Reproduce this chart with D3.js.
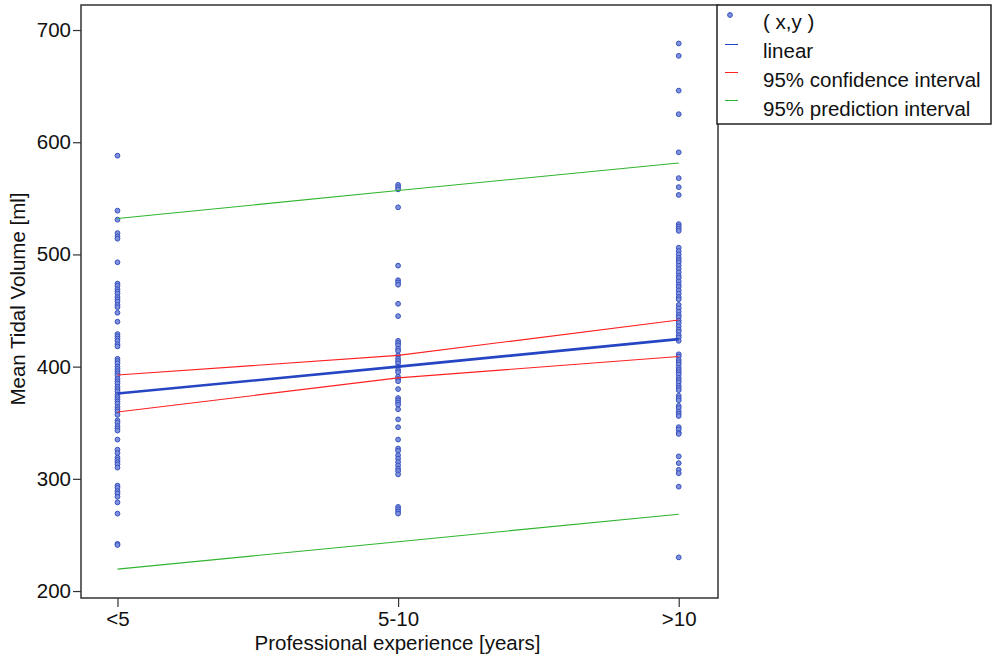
<!DOCTYPE html>
<html>
<head>
<meta charset="utf-8">
<script src="https://cdn.jsdelivr.net/npm/d3@7"></script>
<style>
	body { margin: 0; background: #fff; }
	svg text { font-family: 'Liberation Sans', Arial, sans-serif; fill: #111; }
</style>
</head>
<body>
<div id="chart_div"></div>
<script>
// categories on the x axis
var categories = ['<5', '5-10', '>10'];

// observed tidal volumes per category
var values_lt5 = [588, 539, 531, 519, 516, 514, 493, 474, 472, 469, 467, 465, 462, 460, 458, 455, 453,
	448, 440, 429, 427, 425, 423, 420, 418, 407, 405, 403, 400, 398, 396, 394, 392, 389, 387, 385,
	382, 380, 378, 375, 373, 371, 369, 367, 364, 362, 360, 357, 352, 350, 347, 345, 343, 335, 326,
	323, 319, 317, 315, 313, 310, 294, 292, 289, 287, 284, 279, 269, 242, 241];
var values_5to10 = [562, 560, 558, 542, 490, 477, 475, 473, 456, 445, 423, 421, 419, 416, 414, 410,
	407, 405, 403, 400, 397, 395, 391, 389, 387, 380, 372, 370, 368, 366, 362, 353, 346, 335, 327,
	325, 321, 318, 315, 312, 309, 307, 304, 275, 273, 271, 269];
var values_gt10 = [688, 677, 646, 625, 591, 568, 560, 553, 527, 525, 523, 521, 506, 503, 500, 497,
	495, 493, 490, 487, 484, 481, 479, 476, 473, 471, 468, 465, 462, 460, 455, 452, 449, 446, 444,
	441, 439, 436, 433, 431, 428, 426, 423, 411, 409, 406, 404, 402, 399, 397, 395, 393, 390, 388,
	386, 383, 381, 379, 374, 372, 370, 365, 363, 360, 358, 356, 346, 344, 341, 340, 320, 314, 308,
	305, 293, 230];

// fitted line and intervals at each category
var linear_fit = [376, 400, 424.5];
var conf_upper = [392.5, 410, 441.5];
var conf_lower = [359.5, 390, 409];
var pred_upper = [532, 557, 581.5];
var pred_lower = [219.5, 244, 268.5];

var y_ticks = [200, 300, 400, 500, 600, 700];

var legend_labels = ['( x,y )', 'linear', '95% confidence interval', '95% prediction interval'];

var colours = { dot_fill: '#7f91db', dot_stroke: '#3550c0', linear: '#2645c2', conf: '#ff2020', pred: '#2fb52f' };

function draw_chart() {
	var width = 992;
	var height = 656;
	var font_size = 20.5;
	var svg = d3.select('#chart_div').append('svg')
		.attr('width', width)
		.attr('height', height);

	var frame = { left: 81, right: 718, top: 5, bottom: 598 };

	var x = d3.scaleLinear().domain([0.87, 3.14]).range([frame.left, frame.right]);
	var y = d3.scaleLinear().domain([193.8, 722.3]).range([frame.bottom, frame.top]);

	// fit lines
	var line = d3.line()
		.x(function (d, i) { return x(i + 1); })
		.y(function (d) { return y(d); });

	var line_sets = [
		{ data: pred_upper, colour: colours.pred, w: 1.1 },
		{ data: pred_lower, colour: colours.pred, w: 1.1 },
		{ data: conf_upper, colour: colours.conf, w: 1.1 },
		{ data: conf_lower, colour: colours.conf, w: 1.1 },
		{ data: linear_fit, colour: colours.linear, w: 2.6 }
	];

	// points
	var all_points = [];
	[values_lt5, values_5to10, values_gt10].forEach(function (vals, c) {
		vals.forEach(function (v) { all_points.push({ cat: c + 1, value: v }); });
	});

	svg.append('g').selectAll('circle')
		.data(all_points)
		.enter()
		.append('circle')
		.attr('cx', function (d) { return x(d.cat); })
		.attr('cy', function (d) { return y(d.value); })
		.attr('r', 2.4)
		.attr('fill', colours.dot_fill)
		.attr('stroke', colours.dot_stroke)
		.attr('stroke-width', 1);

	svg.append('g').selectAll('path')
		.data(line_sets)
		.enter()
		.append('path')
		.attr('d', function (d) { return line(d.data); })
		.attr('fill', 'none')
		.attr('stroke', function (d) { return d.colour; })
		.attr('stroke-width', function (d) { return d.w; });

	// frame
	svg.append('rect')
		.attr('x', frame.left)
		.attr('y', frame.top)
		.attr('width', frame.right - frame.left)
		.attr('height', frame.bottom - frame.top)
		.attr('fill', 'none')
		.attr('stroke', '#333')
		.attr('stroke-width', 1.5);

	// y axis
	var y_axis = svg.append('g')
		.attr('transform', 'translate(' + frame.left + ',0)')
		.call(d3.axisLeft(y).tickValues(y_ticks).tickSize(8).tickPadding(2));
	y_axis.select('.domain').remove();
	y_axis.selectAll('line').attr('stroke', '#333').attr('stroke-width', 1.2);
	y_axis.selectAll('text').attr('font-size', font_size).attr('fill', '#111');

	// x axis
	var x_axis = svg.append('g')
		.attr('transform', 'translate(0,' + frame.bottom + ')')
		.call(d3.axisBottom(x).tickValues([1, 2, 3])
			.tickFormat(function (d) { return categories[d - 1]; })
			.tickSize(9).tickPadding(4));
	x_axis.select('.domain').remove();
	x_axis.selectAll('line').attr('stroke', '#333').attr('stroke-width', 1.2);
	x_axis.selectAll('text').attr('font-size', font_size).attr('fill', '#111');

	// axis titles
	svg.append('text')
		.attr('x', (frame.left + frame.right) / 2 - 2)
		.attr('y', 650)
		.attr('text-anchor', 'middle')
		.attr('font-size', font_size)
		.text('Professional experience [years]');

	svg.append('text')
		.attr('transform', 'translate(25,' + 299 + ') rotate(-90)')
		.attr('text-anchor', 'middle')
		.attr('font-size', font_size)
		.text('Mean Tidal Volume [ml]');

	// legend
	var legend = svg.append('g').attr('transform', 'translate(717,5)');
	legend.append('rect')
		.attr('x', 0)
		.attr('y', 0)
		.attr('width', 274)
		.attr('height', 119)
		.attr('fill', '#fff')
		.attr('stroke', '#222')
		.attr('stroke-width', 1.5);

	var baseline_y = [24, 53, 82, 111];
	var marker_y = [10, 39.5, 67.5, 95.5];
	var marker_colours = [null, colours.linear, colours.conf, colours.pred];
	legend_labels.forEach(function (label, i) {
		if (i === 0) {
			legend.append('circle')
				.attr('cx', 13)
				.attr('cy', marker_y[i])
				.attr('r', 2.4)
				.attr('fill', colours.dot_fill)
				.attr('stroke', colours.dot_stroke)
				.attr('stroke-width', 1);
		} else {
			legend.append('line')
				.attr('x1', 8)
				.attr('x2', 21)
				.attr('y1', marker_y[i])
				.attr('y2', marker_y[i])
				.attr('stroke', marker_colours[i])
				.attr('stroke-width', 1);
		}
		legend.append('text')
			.attr('x', 46)
			.attr('y', baseline_y[i])
			.attr('font-size', font_size)
			.text(label);
	});
}

draw_chart();
</script>
</body>
</html>
